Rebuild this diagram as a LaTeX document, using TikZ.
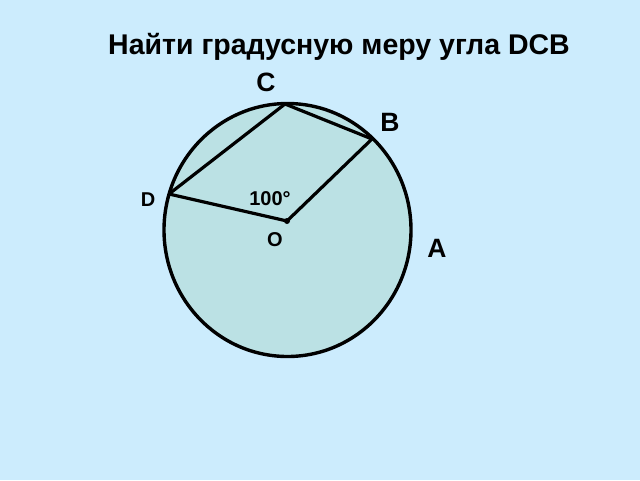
\documentclass[tikz,border=0pt]{standalone}
\usepackage{fontspec}
\setmainfont{Liberation Sans}
\usepackage{xcolor}
\usepackage{tikz}
\definecolor{bgblue}{RGB}{204,236,253}
\definecolor{diskfill}{RGB}{187,225,228}

\begin{document}
\begin{tikzpicture}[x=1pt,y=-1pt,
    big/.style={font=\bfseries\fontsize{26.5}{30}\selectfont},
    small/.style={font=\bfseries\fontsize{20}{24}\selectfont}]
          \fill[bgblue] (0,0) rectangle (640,480);
          \node[font=\bfseries\fontsize{28.5}{32}\selectfont] (title) at (339,47) {Найти градусную меру угла DCB};

          \filldraw[fill=diskfill, line width=3.4pt] (287.5,230) ellipse (123.5 and 126.5);
          \coordinate (C) at (285,104);
          \coordinate (B) at (372,139);
          \coordinate (D) at (169,194);
          \coordinate (O) at (287,221);
          \draw[line width=3.2pt, line join=round] (D) -- (C) -- (B) -- (O) -- (D);
          \fill (O) circle (3);

          \node[big] (lC) at (266,82) {C};
          \node[big] (lB) at (390,122) {B};
          \node[big] (lA) at (437,248) {A};
          \node[small] (lD) at (148,200) {D};
          \node[small] (lO) at (275,240) {O};
          \node[small] (ang) at (270,199) {100°};
        \end{tikzpicture}
\end{document}
